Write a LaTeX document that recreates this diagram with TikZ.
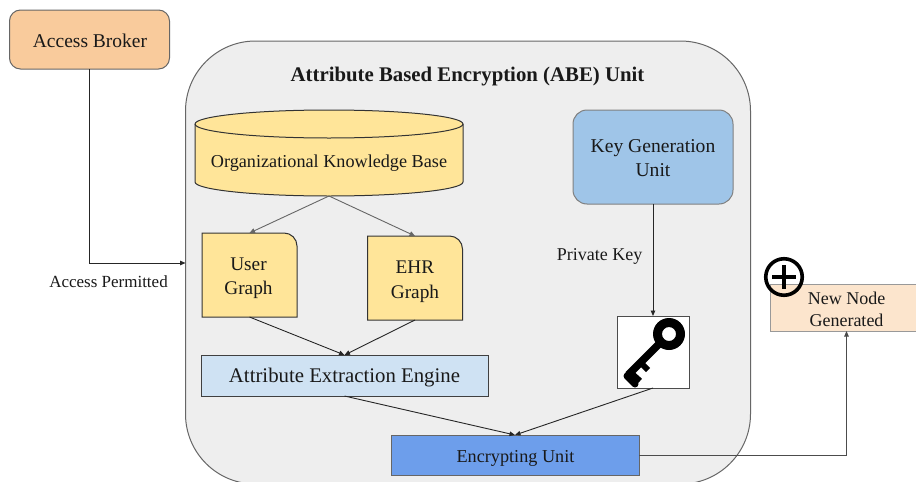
\documentclass[tikz,border=0pt]{standalone}
\usepackage{fontspec}
\setmainfont{Liberation Serif}
\usetikzlibrary{arrows.meta}
\definecolor{brokerfill}{HTML}{F9CB9C}
\definecolor{unitfill}{HTML}{EEEEEE}
\definecolor{yellowfill}{HTML}{FFE599}
\definecolor{keyblue}{HTML}{9FC5E8}
\definecolor{paleblue}{HTML}{CFE2F3}
\definecolor{midblue}{HTML}{6D9EEB}
\definecolor{peach}{HTML}{FCE5CD}
\definecolor{edgegrey}{HTML}{595959}
\tikzset{
  every node/.style={text=black!90,align=center,inner sep=0pt,outer sep=0pt},
  pxbox/.style={draw=edgegrey,line width=1pt,minimum width=#1},
  conn/.style={draw=black!85,line width=.9pt,-{Triangle[length=5.5pt,width=4.5pt]}},
  softconn/.style={draw=black!60,line width=.9pt,-{Triangle[length=5.5pt,width=5pt]}},
  graphtext/.style={minimum width=95pt,minimum height=84pt},
  graphshape/.style={fill=yellowfill,draw=black!80,line width=1pt},
}
\begin{document}
\begin{tikzpicture}[x=1pt,y=-1pt]
\useasboundingbox (0,0) rectangle (916,482);
\clip (0,0) rectangle (916,482);
\fill[white] (0,0) rectangle (916,482);
% ABE container
\node[pxbox=565pt,minimum height=443pt,fill=unitfill,rounded corners=70pt,draw=black!60,anchor=north west] (unit) at (185.5,41) {};
\node[font=\bfseries\fontsize{20.8}{24}\selectfont] (title) at (467.5,77) {Attribute Based Encryption (ABE) Unit};
% Broker
\node[pxbox=160pt,minimum height=59pt,fill=brokerfill,rounded corners=11pt,draw=black!60] (broker) at (89.5,39.5) {};
\node[font=\fontsize{19.5}{24}\selectfont] (brokertext) at (90,41) {Access Broker};
% Cylinder
\node[minimum width=268pt,minimum height=86pt] (kb) at (329,153) {};
\draw[graphshape] ([yshift=-14pt]kb.north west) -- ([yshift=14pt]kb.south west)
  arc[start angle=180,end angle=360,x radius=134pt,y radius=14pt]
  -- ([yshift=-14pt]kb.north east)
  arc[start angle=0,end angle=180,x radius=134pt,y radius=14pt] -- cycle;
\draw[graphshape,fill=none] ([yshift=-14pt]kb.north west) arc[start angle=180,end angle=360,x radius=134pt,y radius=14pt];
\node[font=\fontsize{18.2}{22}\selectfont] (kbtext) at (329,163.5) {Organizational Knowledge Base};
% Graph boxes
\node[graphtext] (user) at (249.5,275) {};
\draw[graphshape] (user.south west) -- (user.north west) [rounded corners=13pt] -- (user.north east) [sharp corners] -- (user.south east) -- cycle;
\node[font=\fontsize{19.3}{24}\selectfont] (usertext) at (248.5,278.5) {User\\Graph};
\node[graphtext] (ehr) at (415,278) {};
\draw[graphshape] (ehr.south west) -- (ehr.north west) [rounded corners=13pt] -- (ehr.north east) [sharp corners] -- (ehr.south east) -- cycle;
\node[font=\fontsize{19.3}{24.5}\selectfont] (ehrtext) at (415,281.5) {EHR\\Graph};
% Engine
\node[pxbox=287pt,minimum height=41pt,fill=paleblue,draw=black!75] (engine) at (344.5,375.5) {};
\node[font=\fontsize{20.8}{24}\selectfont] (enginetext) at (344.5,378) {Attribute Extraction Engine};
% Encrypting unit
\node[pxbox=248pt,minimum height=40pt,fill=midblue,draw=black!60] (enc) at (515,455) {};
\node[font=\fontsize{18.2}{22}\selectfont] (enctext) at (515.5,458) {Encrypting Unit};
% Key generation
\node[pxbox=160pt,minimum height=94pt,fill=keyblue,draw=black!50,rounded corners=14pt] (keygen) at (653,157) {};
\node[font=\fontsize{19.6}{24}\selectfont] (keygentext) at (653,158.5) {Key Generation\\Unit};
% Key icon box
\node[pxbox=72pt,minimum height=72pt,fill=white,draw=black!70] (keybox) at (653,352) {};
\fill[black,even odd rule] (669,334) circle (16pt) (669,334) circle (7pt);
\draw[black,line width=7.5pt] (659,344) -- (628,375);
\draw[black,line width=7pt,line cap=round] (627,376) -- (635,384);
\draw[black,line width=6pt] (640,362) -- (648,370);
\draw[black,line width=6pt] (631,373) -- (640,381);
% New node
\node[pxbox=154pt,minimum height=47pt,fill=peach,draw=black!40,anchor=north west] (newnode) at (770,284) {};
\node[font=\fontsize{18}{22}\selectfont] (newtext) at (846.5,309) {New Node\\Generated};
\node[circle,draw=black,line width=3.6pt,minimum size=36.5pt] (plus) at (784,277) {};
\draw[black,line width=3.2pt] (772,277) -- (796,277) (784,265) -- (784,289);
% Labels
\node[font=\fontsize{17}{20}\selectfont] (permitted) at (108.5,281.5) {Access Permitted};
\node[font=\fontsize{18}{22}\selectfont] (private) at (599.5,256.5) {Private Key};
% Connectors
\coordinate (turn) at (89.5,263);
\draw[conn] (broker.south) -- (turn) -- (turn -| unit.west);
\draw[softconn] (kb.south) -- (user.north);
\draw[softconn] (kb.south) -- (ehr.north);
\draw[conn] (user.south) -- (engine.north);
\draw[conn] (ehr.south) -- (engine.north);
\draw[conn] (engine.south) -- (enc.north);
\draw[conn] (keybox.south) -- (enc.north);
\draw[conn] (keygen.south) -- (keybox.north);
\draw[conn,draw=black!70] (enc.east) -| (newtext.south |- newnode.south);
\end{tikzpicture}
\end{document}
